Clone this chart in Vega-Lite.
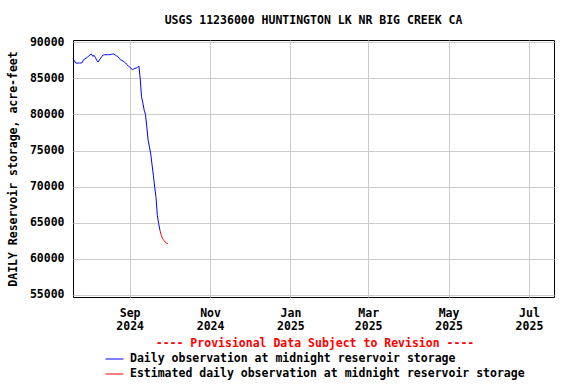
{
  "$schema": "https://vega.github.io/schema/vega-lite/v6.json",
  "width": 481,
  "height": 257,
  "autosize": "none",
  "padding": {"left": 73, "top": 40, "right": 22, "bottom": 87},
  "background": "white",
  "title": {"text": "USGS 11236000 HUNTINGTON LK NR BIG CREEK CA", "font": "DejaVu Sans Mono", "fontSize": 11.5, "fontWeight": "bold", "color": "black", "anchor": "middle", "offset": 10},
  "config": {
    "view": {"stroke": "black", "strokeWidth": 1},
    "axis": {"labelFont": "DejaVu Sans Mono", "labelFontSize": 11.5, "labelFontWeight": "bold", "labelColor": "black", "titleFont": "DejaVu Sans Mono", "titleFontSize": 11.5, "titleFontWeight": "bold", "titleColor": "black", "gridColor": "#cccccc", "gridWidth": 1, "gridOpacity": 1, "domain": false, "ticks": false}
  },
  "datasets": {
    "d": [
      {"date": "2024-07-20", "storage": 87800, "series": "Daily observation at midnight reservoir storage"},
      {"date": "2024-07-21", "storage": 87450, "series": "Daily observation at midnight reservoir storage"},
      {"date": "2024-07-22", "storage": 87130, "series": "Daily observation at midnight reservoir storage"},
      {"date": "2024-07-23", "storage": 87120, "series": "Daily observation at midnight reservoir storage"},
      {"date": "2024-07-24", "storage": 87120, "series": "Daily observation at midnight reservoir storage"},
      {"date": "2024-07-25", "storage": 87130, "series": "Daily observation at midnight reservoir storage"},
      {"date": "2024-07-26", "storage": 87130, "series": "Daily observation at midnight reservoir storage"},
      {"date": "2024-07-27", "storage": 87200, "series": "Daily observation at midnight reservoir storage"},
      {"date": "2024-07-28", "storage": 87580, "series": "Daily observation at midnight reservoir storage"},
      {"date": "2024-07-29", "storage": 87700, "series": "Daily observation at midnight reservoir storage"},
      {"date": "2024-07-30", "storage": 87820, "series": "Daily observation at midnight reservoir storage"},
      {"date": "2024-07-31", "storage": 87950, "series": "Daily observation at midnight reservoir storage"},
      {"date": "2024-08-01", "storage": 88100, "series": "Daily observation at midnight reservoir storage"},
      {"date": "2024-08-02", "storage": 88280, "series": "Daily observation at midnight reservoir storage"},
      {"date": "2024-08-03", "storage": 88380, "series": "Daily observation at midnight reservoir storage"},
      {"date": "2024-08-04", "storage": 88050, "series": "Daily observation at midnight reservoir storage"},
      {"date": "2024-08-05", "storage": 88190, "series": "Daily observation at midnight reservoir storage"},
      {"date": "2024-08-06", "storage": 87900, "series": "Daily observation at midnight reservoir storage"},
      {"date": "2024-08-07", "storage": 87500, "series": "Daily observation at midnight reservoir storage"},
      {"date": "2024-08-08", "storage": 87260, "series": "Daily observation at midnight reservoir storage"},
      {"date": "2024-08-09", "storage": 87550, "series": "Daily observation at midnight reservoir storage"},
      {"date": "2024-08-10", "storage": 87820, "series": "Daily observation at midnight reservoir storage"},
      {"date": "2024-08-11", "storage": 88050, "series": "Daily observation at midnight reservoir storage"},
      {"date": "2024-08-12", "storage": 88250, "series": "Daily observation at midnight reservoir storage"},
      {"date": "2024-08-13", "storage": 88280, "series": "Daily observation at midnight reservoir storage"},
      {"date": "2024-08-14", "storage": 88280, "series": "Daily observation at midnight reservoir storage"},
      {"date": "2024-08-15", "storage": 88280, "series": "Daily observation at midnight reservoir storage"},
      {"date": "2024-08-16", "storage": 88280, "series": "Daily observation at midnight reservoir storage"},
      {"date": "2024-08-17", "storage": 88290, "series": "Daily observation at midnight reservoir storage"},
      {"date": "2024-08-18", "storage": 88330, "series": "Daily observation at midnight reservoir storage"},
      {"date": "2024-08-19", "storage": 88370, "series": "Daily observation at midnight reservoir storage"},
      {"date": "2024-08-20", "storage": 88380, "series": "Daily observation at midnight reservoir storage"},
      {"date": "2024-08-21", "storage": 88250, "series": "Daily observation at midnight reservoir storage"},
      {"date": "2024-08-22", "storage": 88120, "series": "Daily observation at midnight reservoir storage"},
      {"date": "2024-08-23", "storage": 88050, "series": "Daily observation at midnight reservoir storage"},
      {"date": "2024-08-24", "storage": 87800, "series": "Daily observation at midnight reservoir storage"},
      {"date": "2024-08-25", "storage": 87580, "series": "Daily observation at midnight reservoir storage"},
      {"date": "2024-08-26", "storage": 87500, "series": "Daily observation at midnight reservoir storage"},
      {"date": "2024-08-27", "storage": 87400, "series": "Daily observation at midnight reservoir storage"},
      {"date": "2024-08-28", "storage": 87250, "series": "Daily observation at midnight reservoir storage"},
      {"date": "2024-08-29", "storage": 87130, "series": "Daily observation at midnight reservoir storage"},
      {"date": "2024-08-30", "storage": 86900, "series": "Daily observation at midnight reservoir storage"},
      {"date": "2024-08-31", "storage": 86700, "series": "Daily observation at midnight reservoir storage"},
      {"date": "2024-09-01", "storage": 86550, "series": "Daily observation at midnight reservoir storage"},
      {"date": "2024-09-02", "storage": 86430, "series": "Daily observation at midnight reservoir storage"},
      {"date": "2024-09-03", "storage": 86190, "series": "Daily observation at midnight reservoir storage"},
      {"date": "2024-09-04", "storage": 86280, "series": "Daily observation at midnight reservoir storage"},
      {"date": "2024-09-05", "storage": 86380, "series": "Daily observation at midnight reservoir storage"},
      {"date": "2024-09-06", "storage": 86430, "series": "Daily observation at midnight reservoir storage"},
      {"date": "2024-09-07", "storage": 86550, "series": "Daily observation at midnight reservoir storage"},
      {"date": "2024-09-08", "storage": 86700, "series": "Daily observation at midnight reservoir storage"},
      {"date": "2024-09-09", "storage": 85000, "series": "Daily observation at midnight reservoir storage"},
      {"date": "2024-09-10", "storage": 82450, "series": "Daily observation at midnight reservoir storage"},
      {"date": "2024-09-11", "storage": 81600, "series": "Daily observation at midnight reservoir storage"},
      {"date": "2024-09-12", "storage": 80600, "series": "Daily observation at midnight reservoir storage"},
      {"date": "2024-09-13", "storage": 80000, "series": "Daily observation at midnight reservoir storage"},
      {"date": "2024-09-14", "storage": 78280, "series": "Daily observation at midnight reservoir storage"},
      {"date": "2024-09-15", "storage": 76430, "series": "Daily observation at midnight reservoir storage"},
      {"date": "2024-09-16", "storage": 75500, "series": "Daily observation at midnight reservoir storage"},
      {"date": "2024-09-17", "storage": 74500, "series": "Daily observation at midnight reservoir storage"},
      {"date": "2024-09-18", "storage": 73000, "series": "Daily observation at midnight reservoir storage"},
      {"date": "2024-09-19", "storage": 71570, "series": "Daily observation at midnight reservoir storage"},
      {"date": "2024-09-20", "storage": 69900, "series": "Daily observation at midnight reservoir storage"},
      {"date": "2024-09-21", "storage": 68500, "series": "Daily observation at midnight reservoir storage"},
      {"date": "2024-09-22", "storage": 66000, "series": "Daily observation at midnight reservoir storage"},
      {"date": "2024-09-23", "storage": 64860, "series": "Daily observation at midnight reservoir storage"},
      {"date": "2024-09-24", "storage": 63930, "series": "Daily observation at midnight reservoir storage"},
      {"date": "2024-09-24", "storage": 63930, "series": "Estimated daily observation at midnight reservoir storage"},
      {"date": "2024-09-25", "storage": 63240, "series": "Estimated daily observation at midnight reservoir storage"},
      {"date": "2024-09-26", "storage": 62780, "series": "Estimated daily observation at midnight reservoir storage"},
      {"date": "2024-09-27", "storage": 62550, "series": "Estimated daily observation at midnight reservoir storage"},
      {"date": "2024-09-28", "storage": 62300, "series": "Estimated daily observation at midnight reservoir storage"},
      {"date": "2024-09-29", "storage": 62150, "series": "Estimated daily observation at midnight reservoir storage"},
      {"date": "2024-09-30", "storage": 62080, "series": "Estimated daily observation at midnight reservoir storage"}
    ]
  },
  "data": {"name": "d"},
  "mark": {"type": "line", "strokeWidth": 1},
  "encoding": {
    "x": {
      "field": "date", "type": "temporal",
      "scale": {"type": "utc", "domain": [{"year": 2024, "month": 7, "date": 20, "utc": true}, {"year": 2025, "month": 7, "date": 20, "utc": true}]},
      "axis": {
        "title": null,
        "values": [
          {"year": 2024, "month": 9, "date": 1, "utc": true},
          {"year": 2024, "month": 11, "date": 1, "utc": true},
          {"year": 2025, "month": 1, "date": 1, "utc": true},
          {"year": 2025, "month": 3, "date": 1, "utc": true},
          {"year": 2025, "month": 5, "date": 1, "utc": true},
          {"year": 2025, "month": 7, "date": 1, "utc": true}
        ],
        "labelExpr": "[utcFormat(datum.value, '%b'), utcFormat(datum.value, '%Y')]",
        "labelLineHeight": 13,
        "labelPadding": 10,
        "labelFlush": false,
        "labelOverlap": false
      }
    },
    "y": {
      "field": "storage", "type": "quantitative",
      "scale": {"domain": [54700, 90320], "nice": false, "zero": false},
      "axis": {
        "title": "DAILY Reservoir storage, acre-feet",
        "values": [55000, 60000, 65000, 70000, 75000, 80000, 85000, 90000],
        "format": "d",
        "labelPadding": 9,
        "titlePadding": 11
      }
    },
    "color": {
      "field": "series", "type": "nominal",
      "scale": {"domain": ["Daily observation at midnight reservoir storage", "Estimated daily observation at midnight reservoir storage"], "range": ["#0000ff", "#ff0000"]},
      "legend": {
        "orient": "none",
        "legendX": 32,
        "legendY": 298,
        "direction": "vertical",
        "title": "---- Provisional Data Subject to Revision ----",
        "titleColor": "#ff0000",
        "titleFont": "DejaVu Sans Mono",
        "titleFontSize": 11.5,
        "titleFontWeight": "bold",
        "titleAnchor": "middle",
        "titleLimit": 0,
        "titlePadding": 0,
        "labelFont": "DejaVu Sans Mono",
        "labelFontSize": 11.5,
        "labelFontWeight": "bold",
        "labelColor": "black",
        "labelLimit": 0,
        "labelOffset": 6,
        "symbolType": "stroke",
        "symbolSize": 324,
        "symbolStrokeWidth": 1,
        "rowPadding": 0
      }
    }
  }
}
